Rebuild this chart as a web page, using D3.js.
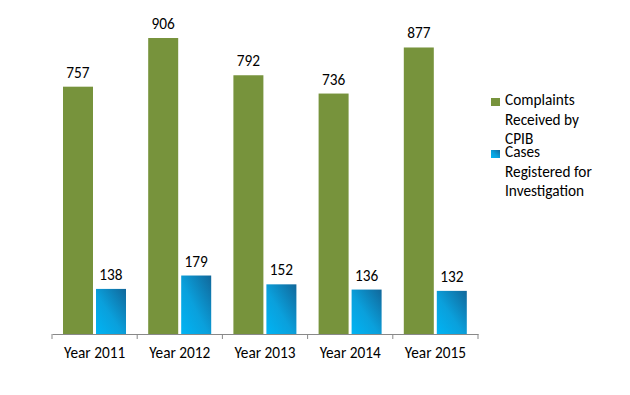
<!DOCTYPE html>
<html>
<head>
<meta charset="utf-8">
<script src="https://cdn.jsdelivr.net/npm/d3@7"></script>
<style>
  body { margin: 0; background: #fff; }
  svg { font-family: Carlito, "Liberation Sans", "DejaVu Sans", sans-serif; }
</style>
</head>
<body>
<svg id="chart" width="630" height="395"></svg>
<script>
const years = ["Year 2011", "Year 2012", "Year 2013", "Year 2014", "Year 2015"];
const complaints = [757, 906, 792, 736, 877];
const cases = [138, 179, 152, 136, 132];
const seriesNames = ["Complaints Received by CPIB", "Cases Registered for Investigation"];
const legendLines = [["Complaints", "Received by", "CPIB"], ["Cases", "Registered for", "Investigation"]];

const svg = d3.select("#chart");
const baseY = 334;
const fontSize = 15.3;

const x = d3.scaleBand().domain(years).range([52, 478]);
const y = d3.scaleLinear().domain([0, 1000]).range([baseY, baseY - 326.7]);

const defs = svg.append("defs");
const grad = defs.append("linearGradient")
  .attr("id", "blueGrad")
  .attr("x1", "0").attr("y1", "1")
  .attr("x2", "1").attr("y2", "0");
grad.append("stop").attr("offset", "0%").attr("stop-color", "#00b4f4");
grad.append("stop").attr("offset", "45%").attr("stop-color", "#0aa0dc");
grad.append("stop").attr("offset", "100%").attr("stop-color", "#11679a");

const barW = 30;
const pad = 11;
const gap = 3;

const groups = svg.append("g")
  .selectAll("g")
  .data(years)
  .join("g");

groups.append("rect")
  .attr("x", (d) => x(d) + pad)
  .attr("y", (d, i) => y(complaints[i]))
  .attr("width", barW)
  .attr("height", (d, i) => baseY - y(complaints[i]))
  .attr("fill", "#77933c");

groups.append("rect")
  .attr("x", (d) => x(d) + pad + barW + gap)
  .attr("y", (d, i) => y(cases[i]))
  .attr("width", barW)
  .attr("height", (d, i) => baseY - y(cases[i]))
  .attr("fill", "url(#blueGrad)");

groups.append("text")
  .attr("x", (d) => x(d) + pad + barW / 2)
  .attr("y", (d, i) => y(complaints[i]) - 9)
  .attr("text-anchor", "middle")
  .attr("font-size", fontSize)
  .attr("fill", "#000")
  .text((d, i) => complaints[i]);

groups.append("text")
  .attr("x", (d) => x(d) + pad + barW * 1.5 + gap)
  .attr("y", (d, i) => y(cases[i]) - 9)
  .attr("text-anchor", "middle")
  .attr("font-size", fontSize)
  .attr("fill", "#000")
  .text((d, i) => cases[i]);

// axis
const axis = svg.append("g")
  .attr("transform", `translate(0,${baseY})`)
  .call(d3.axisBottom(x).tickSize(0).tickPadding(13));
axis.select(".domain").attr("stroke", "#898989");
axis.selectAll("text")
  .attr("font-size", fontSize)
  .attr("fill", "#000")
  .attr("font-family", "Carlito, 'Liberation Sans', sans-serif");

const tickPos = years.map((d) => x(d)).concat([x.range()[1]]);
axis.selectAll(".sep")
  .data(tickPos)
  .join("line")
  .attr("class", "sep")
  .attr("x1", (d) => d).attr("x2", (d) => d)
  .attr("y1", 0).attr("y2", 5)
  .attr("stroke", "#898989");

// legend
const legendColors = ["#77933c", "url(#blueGrad)"];
const legendBase = [106, 158];
const legend = svg.append("g")
  .selectAll("g")
  .data(seriesNames)
  .join("g");

legend.append("rect")
  .attr("x", 491)
  .attr("y", (d, i) => legendBase[i] - 8)
  .attr("width", 9)
  .attr("height", 8)
  .attr("fill", (d, i) => legendColors[i]);

legend.each(function (d, i) {
  const t = d3.select(this).append("text")
    .attr("font-size", fontSize)
    .attr("fill", "#000");
  legendLines[i].forEach((line, j) => {
    t.append("tspan")
      .attr("x", 505)
      .attr("y", legendBase[i] - 1 + j * 19.5)
      .text(line);
  });
});
</script>
</body>
</html>
